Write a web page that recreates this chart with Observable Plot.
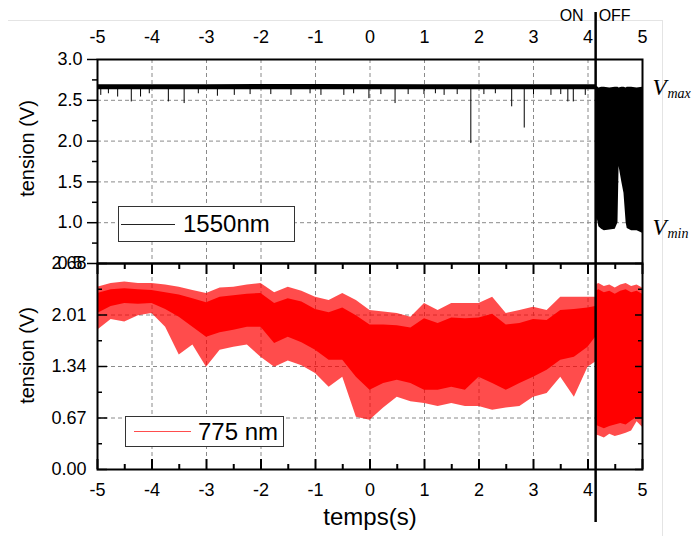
<!DOCTYPE html>
<html><head><meta charset="utf-8">
<script src="https://cdn.jsdelivr.net/npm/d3@7"></script>
<script src="https://cdn.jsdelivr.net/npm/@observablehq/plot@0.6"></script>
<style>
body{margin:0;background:#fff;}
#wrap{position:relative;width:693px;height:536px;font-family:"Liberation Sans",Arial,sans-serif;overflow:hidden;}
#wrap svg{position:absolute;left:0;overflow:visible;}
.crop{position:absolute;left:8px;top:20px;width:654px;height:530px;border-top:1px solid #e4e4e4;border-right:1px solid #e4e4e4;}
.legend{position:absolute;border:1px solid #333;background:#fff;box-sizing:border-box;}
.legend .ln{position:absolute;}
.legend .tx{position:absolute;font-size:24px;line-height:1;white-space:nowrap;}
</style></head><body><div id="wrap"><div class="crop"></div></div>
<script>
// ---- axis ticks ----
const xTicks = [-5,-4,-3,-2,-1,0,1,2,3,4,5];
const xMinor = [-4.5,-3.5,-2.5,-1.5,-0.5,0.5,1.5,2.5,3.5,4.5];
const xGrid = [-4,-3,-2,-1,0,1,2,3,4];
const topYTicks = [0.5,1.0,1.5,2.0,2.5,3.0];
const topYMinor = [0.75,1.25,1.75,2.25,2.75];
const topYGrid = [1.0,1.5,2.0,2.5];
const botYTicks = [0.00,0.67,1.34,2.01,2.68];
const botYMinor = [0.335,1.005,1.675,2.345];
const botYGrid = [0.67,1.34,2.01];
const xTitle = "temps(s)";
const yTitle = "tension (V)";
const legendLabels = ["1550nm","775 nm"];
// ---- ON / OFF switch ----
const switchT = 4.14;
const stateLabels = ["ON", "OFF"];
const vLevels = [{name:"max", v:2.655},{name:"min", v:0.94}];

// ---- 1550 nm (black) ----
const blkOnT  = [-5, -3, -1, 1, 3, 4.14];
const blkOnLo = [2.63, 2.63, 2.63, 2.63, 2.63, 2.63];
const blkOnHi = [2.69, 2.69, 2.695, 2.69, 2.69, 2.69];
const blkBase = 2.635;
const blkSpikeT = [-4.94,-4.8,-4.63,-4.38,-4.21,-4.05,-3.70,-3.41,-3.15,-2.80,-2.49,-2.2,-1.82,-1.45,-1.1,-0.90,-0.48,-0.3,-0.02,0.2,0.46,0.7,0.99,1.2,1.36,1.6,1.85,2.09,2.3,2.60,2.83,3.0,3.32,3.5,3.63,3.73,3.95];
const blkSpikeV = [2.56,2.58,2.54,2.48,2.54,2.58,2.48,2.46,2.58,2.55,2.56,2.57,2.57,2.56,2.58,2.56,2.56,2.58,2.52,2.57,2.46,2.57,2.57,2.58,2.56,2.57,1.97,2.57,2.58,2.42,2.16,2.57,2.56,2.57,2.48,2.48,2.56];
const blkOffT  = [4.14,4.17,4.2,4.25,4.3,4.4,4.5,4.55,4.57,4.62,4.66,4.7,4.72,4.8,4.9,5.0];
const blkOffLo = [0.95,1.05,0.95,0.92,0.90,0.91,0.92,1.0,1.69,1.5,1.36,1.0,0.93,0.9,0.9,0.87];
const blkOffHi = [2.66,2.67,2.65,2.66,2.66,2.65,2.66,2.66,2.65,2.66,2.66,2.65,2.66,2.66,2.65,2.66];

// ---- 775 nm (red) ----
const redT      = [-5,-4.75,-4.5,-4.25,-4,-3.75,-3.5,-3.25,-3,-2.75,-2.5,-2.25,-2,-1.75,-1.5,-1.25,-1,-0.75,-0.5,-0.25,0,0.25,0.5,0.75,1,1.25,1.5,1.75,2,2.25,2.5,2.75,3,3.25,3.5,3.75,4,4.14];
const redHi     = [2.37,2.42,2.44,2.42,2.42,2.40,2.37,2.33,2.29,2.36,2.37,2.40,2.42,2.30,2.37,2.32,2.24,2.20,2.29,2.20,2.07,2.05,2.03,1.98,2.16,2.07,2.16,2.16,2.16,2.24,2.03,2.07,2.11,2.07,2.24,2.24,2.24,2.24];
const redCoreHi = [2.29,2.34,2.35,2.34,2.33,2.30,2.27,2.22,2.17,2.24,2.26,2.28,2.29,2.16,2.22,2.18,2.08,2.04,2.10,2.00,1.88,1.88,1.87,1.84,1.96,1.90,1.97,1.96,1.97,2.02,1.88,1.90,1.95,1.94,2.07,2.08,2.10,2.12];
const redCoreLo = [2.03,2.12,2.16,2.15,2.16,2.08,1.98,1.85,1.72,1.78,1.81,1.85,1.85,1.64,1.72,1.65,1.55,1.42,1.42,1.20,1.03,1.12,1.16,1.12,1.03,1.03,1.07,1.03,1.20,1.12,1.03,1.12,1.20,1.29,1.42,1.46,1.59,1.72];
const redLo     = [1.81,1.95,1.92,2.00,2.03,1.85,1.49,1.62,1.33,1.55,1.59,1.62,1.46,1.33,1.41,1.35,1.25,1.07,1.20,0.68,0.64,0.80,0.94,0.88,0.86,0.82,0.86,0.82,0.82,0.77,0.80,0.82,0.94,0.99,1.20,0.94,1.33,1.40];
const redOffT      = [4.14,4.2,4.3,4.4,4.5,4.6,4.7,4.8,4.9,5.0];
const redOffHi     = [2.40,2.42,2.38,2.40,2.36,2.40,2.42,2.38,2.40,2.36];
const redOffCoreHi = [2.32,2.34,2.30,2.32,2.28,2.32,2.34,2.30,2.32,2.28];
const redOffCoreLo = [0.58,0.56,0.53,0.56,0.58,0.60,0.58,0.63,0.68,0.66];
const redOffLo     = [0.45,0.44,0.41,0.46,0.43,0.45,0.47,0.50,0.62,0.55];

// ---- tables ----
const zip = (T, cols) => T.map((t,i) => Object.fromEntries([["t",t], ...Object.entries(cols).map(([k,a]) => [k,a[i]])]));
const blkOn = zip(blkOnT, {lo: blkOnLo, hi: blkOnHi});
const blkOff = zip(blkOffT, {lo: blkOffLo, hi: blkOffHi});
const blkSpikes = zip(blkSpikeT, {v: blkSpikeV});
const redOn = zip(redT, {hi: redHi, chi: redCoreHi, clo: redCoreLo, lo: redLo});
const redOff = zip(redOffT, {hi: redOffHi, chi: redOffCoreHi, clo: redOffCoreLo, lo: redOffLo});

const FONT = '"Liberation Sans", Arial, sans-serif';
const SERIF = '"Liberation Serif", serif';
const gridStyle = {stroke: "#8a8a8a", strokeOpacity: 1, strokeDasharray: "4,3", strokeWidth: 1};
const common = {
  width: 693, marginLeft: 97, marginRight: 51,
  x: {domain: [-5, 5], label: null},
  style: {fontFamily: FONT, fontSize: "18px", overflow: "visible", background: "transparent", color: "black"}
};

const topPlot = Plot.plot({
  ...common,
  height: 264, marginTop: 59, marginBottom: 1,
  y: {domain: [0.5, 3.0], label: null},
  marks: [
    Plot.gridX(xGrid, gridStyle),
    Plot.gridY(topYGrid, gridStyle),
    Plot.areaY(blkOn, {x: "t", y1: "lo", y2: "hi", fill: "black"}),
    Plot.ruleX(blkSpikes, {x: "t", y1: () => blkBase, y2: "v", stroke: "black", strokeWidth: 1}),
    Plot.areaY(blkOff, {x: "t", y1: "lo", y2: "hi", fill: "black"}),
    Plot.axisX(xTicks, {anchor: "top", tickSize: 0, tickPadding: 17, tickFormat: d => String(d)}),
    Plot.axisY(topYTicks, {anchor: "left", tickSize: 10, tickPadding: 5, tickFormat: d => d.toFixed(1), strokeWidth: 1.5}),
    Plot.axisY(topYMinor, {anchor: "left", tickSize: 5, tickFormat: () => "", strokeWidth: 1.5}),
    Plot.frame({strokeWidth: 2}),
    Plot.ruleX([switchT], {insetTop: -47, strokeWidth: 2.5}),
    Plot.text([stateLabels[0]], {x: () => switchT, frameAnchor: "top", lineAnchor: "middle", dy: -44, dx: -12, textAnchor: "end", fontSize: 16}),
    Plot.text([stateLabels[1]], {x: () => switchT, frameAnchor: "top", lineAnchor: "middle", dy: -44, dx: 3, textAnchor: "start", fontSize: 16}),
    Plot.text(vLevels, {y: "v", text: () => "V", frameAnchor: "right", dx: 10, textAnchor: "start", fontFamily: SERIF, fontStyle: "italic", fontSize: 23}),
    Plot.text(vLevels, {y: "v", text: "name", frameAnchor: "right", dx: 25, dy: 6, textAnchor: "start", fontFamily: SERIF, fontStyle: "italic", fontSize: 14}),
    Plot.text([yTitle], {frameAnchor: "left", rotate: -90, dx: -70, dy: -13, textAnchor: "middle", fontSize: 20})
  ]
});

const botPlot = Plot.plot({
  ...common,
  height: 283, marginTop: 10, marginBottom: 67,
  y: {domain: [0, 2.68], label: null},
  marks: [
    Plot.gridX(xGrid, gridStyle),
    Plot.gridY(botYGrid, gridStyle),
    Plot.areaY(redOn, {x: "t", y1: "lo", y2: "hi", fill: "#ff0000", fillOpacity: 0.7}),
    Plot.areaY(redOn, {x: "t", y1: "clo", y2: "chi", fill: "#ff0000"}),
    Plot.areaY(redOff, {x: "t", y1: "lo", y2: "hi", fill: "#ff0000", fillOpacity: 0.7}),
    Plot.areaY(redOff, {x: "t", y1: "clo", y2: "chi", fill: "#ff0000"}),
    Plot.axisX(xTicks, {anchor: "bottom", tickSize: 0, tickPadding: 14, tickFormat: d => String(d)}),
    Plot.axisX(xTicks, {anchor: "bottom", tickSize: -10, tickFormat: () => "", strokeWidth: 2}),
    Plot.axisX(xMinor, {anchor: "bottom", tickSize: -5, tickFormat: () => "", strokeWidth: 2}),
    Plot.axisX(xTicks, {anchor: "top", tickSize: -10, tickFormat: () => "", strokeWidth: 2}),
    Plot.axisX(xMinor, {anchor: "top", tickSize: -5, tickFormat: () => "", strokeWidth: 2}),
    Plot.axisY(botYTicks, {anchor: "left", tickSize: 0, tickPadding: 11, tickFormat: d => d.toFixed(2)}),
    Plot.axisY(botYTicks, {anchor: "left", tickSize: -10, tickFormat: () => "", strokeWidth: 1.5}),
    Plot.axisY(botYMinor, {anchor: "left", tickSize: -5, tickFormat: () => "", strokeWidth: 1.5}),
    Plot.axisY(botYTicks, {anchor: "right", tickSize: -8, tickFormat: () => "", strokeWidth: 1.5}),
    Plot.axisY(botYMinor, {anchor: "right", tickSize: -5, tickFormat: () => "", strokeWidth: 1.5}),
    Plot.frame({strokeWidth: 2}),
    Plot.ruleX([switchT], {insetBottom: -53, strokeWidth: 2.5}),
    Plot.text([xTitle], {frameAnchor: "bottom", dy: 55, fontSize: 24}),
    Plot.text([yTitle], {frameAnchor: "left", rotate: -90, dx: -70, dy: -11, textAnchor: "middle", fontSize: 20})
  ]
});

const wrap = document.getElementById("wrap");
topPlot.style.top = "0px";
botPlot.style.top = "253px";
wrap.appendChild(botPlot);
wrap.appendChild(topPlot);

function addLegend(label, color, box, line, textLeft, lw) {
  const d = document.createElement("div");
  d.className = "legend";
  Object.assign(d.style, {left: box[0]+"px", top: box[1]+"px", width: box[2]+"px", height: box[3]+"px"});
  const l = document.createElement("div");
  l.className = "ln";
  Object.assign(l.style, {left: line[0]+"px", width: line[1]+"px", top: (box[3]/2 - 1 - lw/2)+"px", borderTop: lw+"px solid "+color});
  const t = document.createElement("div");
  t.className = "tx";
  t.textContent = label;
  Object.assign(t.style, {left: textLeft+"px", top: (box[3]/2 - 13)+"px"});
  d.appendChild(l); d.appendChild(t);
  wrap.appendChild(d);
}
addLegend(legendLabels[0], "#222", [118, 206, 177, 36], [2, 54], 64, 1);
addLegend(legendLabels[1], "#ff4d4d", [125, 416, 159, 31], [8, 57], 72, 1.5);
</script></body></html>
